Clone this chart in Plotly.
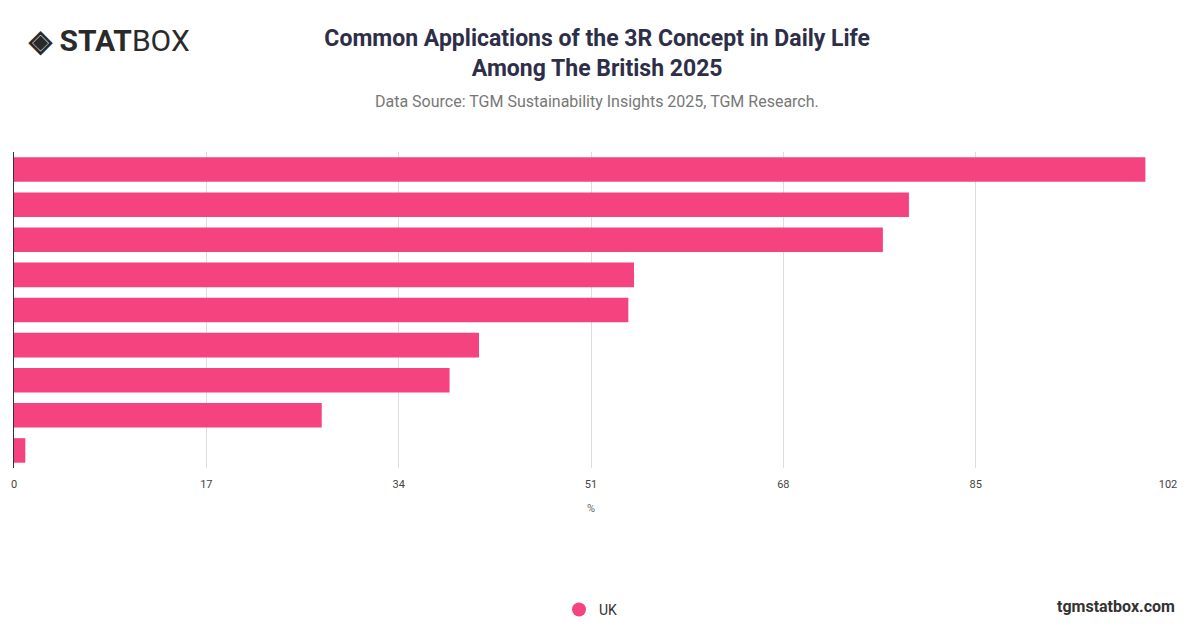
import plotly.graph_objects as go

# Values (categories have no visible labels)
categories = ["c1", "c2", "c3", "c4", "c5", "c6", "c7", "c8", "c9"]
values_uk = [100.0, 79.1, 76.8, 54.8, 54.3, 41.1, 38.5, 27.2, 1.0]
tick_vals = [0, 17, 34, 51, 68, 85, 102]
bar_color = '#f5437f'

fig = go.Figure()
fig.add_trace(go.Bar(
    x=values_uk,
    y=categories,
    orientation='h',
    name='UK',
    showlegend=False,
    marker=dict(color=bar_color, line=dict(width=0)),
    hoverinfo='x',
))
# legend entry with round marker
fig.add_trace(go.Scatter(x=[None], y=[None], mode='markers', name='UK',
                         marker=dict(symbol='circle', size=14, color=bar_color)))

fig.update_layout(
    width=1200, height=628,
    paper_bgcolor='white', plot_bgcolor='white',
    margin=dict(l=6, r=40, t=144, b=168, autoexpand=False),
    bargap=0.3,
    font=dict(family='Roboto', color='#555'),
    title=dict(
        text='<b>Common Applications of the 3R Concept in Daily Life<br>Among The British 2025</b>',
        x=0.491, xanchor='center', y=0.94, yanchor='top', automargin=False,
        font=dict(size=23, color='#2e2e48', family='Roboto'),
    ),
    showlegend=True,
    legend=dict(orientation='h', x=0.5, xanchor='center', y=-0.449, yanchor='middle',
                font=dict(size=14, color='#333')),
    xaxis=dict(range=[0, 102], tickvals=tick_vals, showgrid=True, gridcolor='#dddddd',
               zeroline=False, automargin=False, tickfont=dict(size=11, color='#444'),
               ticks='outside', ticklen=6, tickcolor='white',
               title=dict(text='%', font=dict(size=11, color='#666'), standoff=14)),
    yaxis=dict(categoryorder='array', categoryarray=categories[::-1], showticklabels=False,
               automargin=False, showline=True, linecolor='#333', linewidth=1, showgrid=False),
)

fig.add_annotation(text='Data Source: TGM Sustainability Insights 2025, TGM Research.',
                   xref='paper', yref='paper', x=0.505, y=1.161, xanchor='center', yanchor='middle',
                   showarrow=False, font=dict(size=16, color='#777'))
fig.add_annotation(text='<b>◈ STAT</b>BOX', xref='paper', yref='paper', x=0.01, y=1.354,
                   xanchor='left', yanchor='middle', showarrow=False,
                   font=dict(size=30, color='#2a2a2a'))
fig.add_annotation(text='<b>tgmstatbox.com</b>', xref='paper', yref='paper', x=1.008, y=-0.437,
                   xanchor='right', yanchor='middle', showarrow=False,
                   font=dict(size=16, color='#333'))

fig.write_html("out.html")
